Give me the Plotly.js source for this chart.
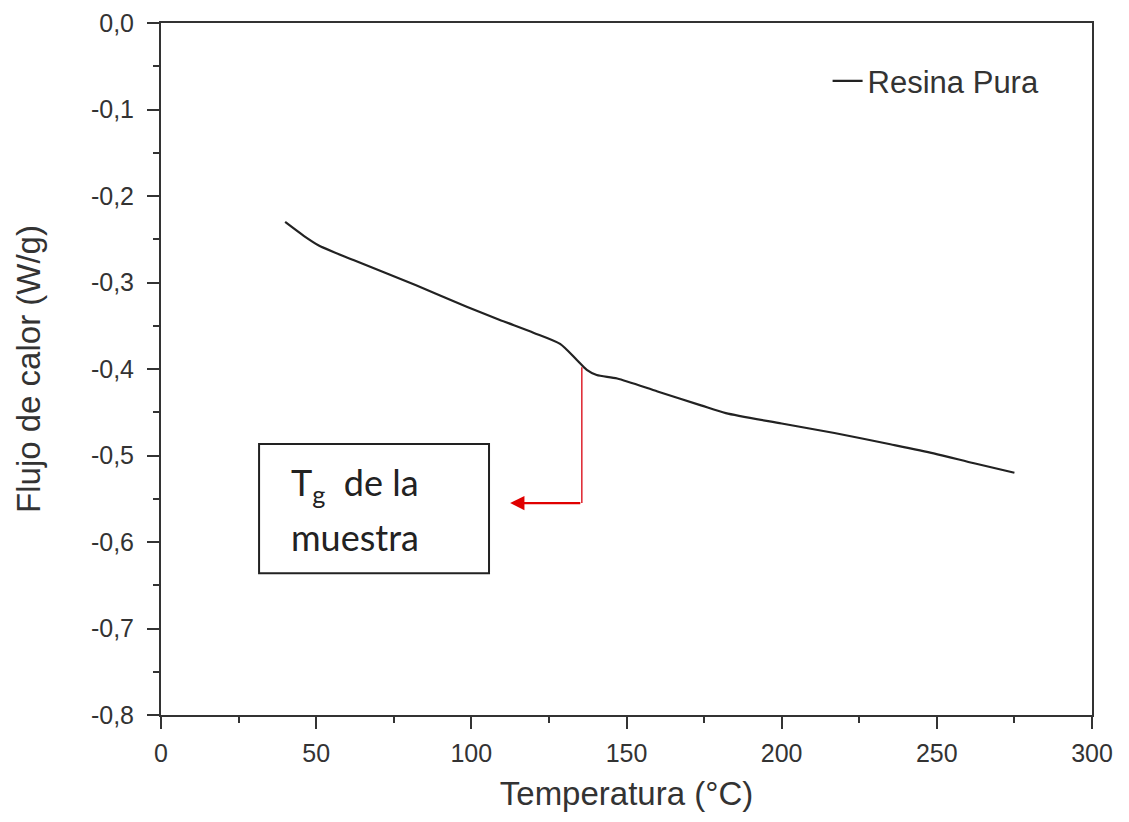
<!DOCTYPE html>
<html>
<head>
<meta charset="utf-8">
<script src="https://cdn.plot.ly/plotly-3.0.1.min.js"></script>
<style>
  html, body { margin: 0; padding: 0; background: #fff; }
  #chart { width: 1129px; height: 822px; }
</style>
</head>
<body>
<div id="chart"></div>
<script>
// Temperature (°C)
const temperatura = [40, 46, 51, 62, 82, 98.5, 109, 120, 128.6, 134, 137.2, 140.4, 147, 160, 174, 182, 200, 217, 235, 249, 262, 275];
// Heat flow (W/g)
const flujoCalor = [-0.230, -0.246, -0.2575, -0.274, -0.303, -0.328, -0.343, -0.358, -0.371, -0.3896, -0.401, -0.407, -0.411, -0.426, -0.442, -0.451, -0.463, -0.474, -0.487, -0.4975, -0.509, -0.520];

const seriesName = 'Resina Pura';

const xTickVals = [0, 50, 100, 150, 200, 250, 300];
const xTickText = ['0', '50', '100', '150', '200', '250', '300'];
const yTickVals = [0, -0.1, -0.2, -0.3, -0.4, -0.5, -0.6, -0.7, -0.8];
const yTickText = ['0,0', '-0,1', '-0,2', '-0,3', '-0,4', '-0,5', '-0,6', '-0,7', '-0,8'];

// Tg annotation (data units)
const tgX = 135.6;
const tgYTop = -0.398;
const tgYArrow = -0.555;
const arrowTipX = 112.5;
const boxX = [31.6, 105.7];
const boxY = [-0.4867, -0.636];
const labelLine1 = 'T<sub>g</sub>  de la';
const labelLine2 = 'muestra';

const axisFont = { family: 'Liberation Sans, Arial, sans-serif', size: 25, color: '#333' };
const titleFont = { family: 'Liberation Sans, Arial, sans-serif', size: 33, color: '#333' };

const trace = {
  x: temperatura,
  y: flujoCalor,
  type: 'scatter',
  mode: 'lines',
  name: seriesName,
  line: { color: '#222', width: 2.2, shape: 'spline', smoothing: 0.7 }
};

const layout = {
  width: 1129,
  height: 822,
  margin: { l: 161, r: 37, t: 23, b: 107 },
  paper_bgcolor: '#fff',
  plot_bgcolor: '#fff',
  showlegend: true,
  legend: {
    x: 0.716, y: 0.955, xanchor: 'left', yanchor: 'top',
    bgcolor: 'rgba(0,0,0,0)',
    font: { family: 'Liberation Sans, Arial, sans-serif', size: 31, color: '#333' }
  },
  xaxis: {
    range: [0, 300],
    tickvals: xTickVals,
    ticktext: xTickText,
    ticks: 'outside',
    ticklen: 12,
    tickwidth: 2,
    tickcolor: '#333',
    ticklabelstandoff: 3,
    minor: { dtick: 25, ticks: 'outside', ticklen: 6, tickwidth: 2, tickcolor: '#333' },
    showline: true,
    linecolor: '#333',
    linewidth: 2,
    mirror: true,
    showgrid: false,
    zeroline: false,
    tickfont: axisFont,
    title: { text: 'Temperatura (°C)', font: titleFont, standoff: 16 }
  },
  yaxis: {
    range: [-0.8, 0],
    tickvals: yTickVals,
    ticktext: yTickText,
    ticks: 'outside',
    ticklen: 12,
    tickwidth: 2,
    tickcolor: '#333',
    ticklabelstandoff: 8,
    minor: { dtick: 0.05, ticks: 'outside', ticklen: 6, tickwidth: 2, tickcolor: '#333' },
    showline: true,
    linecolor: '#333',
    linewidth: 2,
    mirror: true,
    showgrid: false,
    zeroline: false,
    tickfont: axisFont,
    title: { text: 'Flujo de calor (W/g)', font: titleFont, standoff: 40 }
  },
  shapes: [
    { type: 'line', xref: 'x', yref: 'y', x0: tgX, x1: tgX, y0: tgYTop, y1: tgYArrow,
      line: { color: '#e0303a', width: 1.6 } },
    { type: 'rect', xref: 'x', yref: 'y', x0: boxX[0], x1: boxX[1], y0: boxY[0], y1: boxY[1],
      line: { color: '#222', width: 2 }, fillcolor: 'rgba(0,0,0,0)' }
  ],
  annotations: [
    { xref: 'x', yref: 'y', axref: 'x', ayref: 'y', x: arrowTipX, y: tgYArrow, ax: tgX, ay: tgYArrow,
      text: '', showarrow: true, arrowhead: 2, arrowsize: 1.3, arrowwidth: 2.2, arrowcolor: '#e00000' },
    { xref: 'x', yref: 'y', x: 41.2, y: -0.534, xanchor: 'left', yanchor: 'middle', showarrow: false,
      text: labelLine1, font: { family: 'Lato, Open Sans, sans-serif', size: 36, color: '#222' } },
    { xref: 'x', yref: 'y', x: 41.2, y: -0.594, xanchor: 'left', yanchor: 'middle', showarrow: false,
      text: labelLine2, font: { family: 'Lato, Open Sans, sans-serif', size: 36, color: '#222' } }
  ]
};

Plotly.newPlot('chart', [trace], layout, { displayModeBar: false, staticPlot: true });
</script>
</body>
</html>
